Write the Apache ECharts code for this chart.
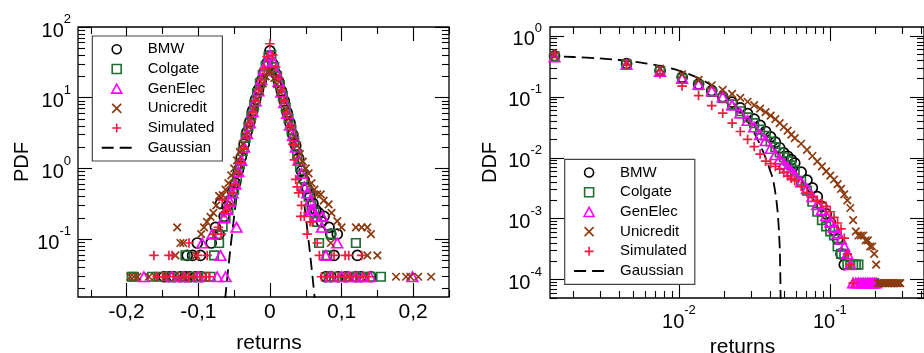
<!DOCTYPE html>
<html>
<head>
<meta charset="utf-8">
<script src="https://cdn.jsdelivr.net/npm/echarts@6/dist/echarts.min.js"></script>
<style>
html, body { margin: 0; padding: 0; background: #fff; }
#chart { width: 924px; height: 353px; }
</style>
</head>
<body>
<div id="chart"></div>
<script>
// ---------- Series names and colours ----------
const seriesNames = ['BMW', 'Colgate', 'GenElec', 'Unicredit', 'Simulated'];
const gaussName = 'Gaussian';

// ---------- Left panel: PDF of returns ----------
const pdfBMW = [
  [-0.064,0.21],[-0.060,0.29],[-0.056,0.35],[-0.052,0.47],[-0.048,0.62],[-0.044,0.95],[-0.040,1.45],[-0.036,2.2],
  [-0.032,3.3],[-0.028,4.6],[-0.024,6.6],[-0.020,9.5],[-0.016,13],[-0.012,17.5],[-0.008,23],[-0.004,31],[0,46],
  [0.004,30],[0.008,22],[0.012,17],[0.016,12.5],[0.020,9],[0.024,6.2],[0.028,4.4],[0.032,3.0],[0.036,2.1],
  [0.040,1.4],[0.044,0.92],[0.048,0.68],[0.052,0.52],[0.056,0.40],[0.060,0.32],[0.064,0.26],
  [-0.069,0.32],[-0.071,0.1176],[-0.076,0.147],[-0.082,0.0882],[-0.097,0.0588],[-0.1015,0.0882],[-0.108,0.0588],
  [-0.1155,0.0588],[-0.096,0.0294],[-0.104,0.0294],[-0.112,0.0294],[-0.118,0.0294],[-0.125,0.0294],
  [-0.134,0.0294],[-0.141,0.0294],[-0.148,0.0294],
  [0.068,0.235],[0.072,0.176],[0.0755,0.21],[0.0825,0.147],[0.085,0.1176],[0.094,0.1176],[0.0895,0.0588],
  [0.122,0.0588],[0.078,0.0294],[0.085,0.0294],[0.095,0.0294],[0.106,0.0294],[0.12,0.0294],[0.127,0.0294],[0.141,0.0294]
];
const pdfColgate = [
  [-0.066,0.15],[-0.062,0.2],[-0.058,0.26],[-0.054,0.35],[-0.050,0.5],[-0.046,0.75],[-0.042,1.15],[-0.038,1.75],
  [-0.034,2.7],[-0.030,3.9],[-0.026,5.6],[-0.022,8],[-0.018,11.5],[-0.014,16],[-0.010,21],[-0.006,28],[-0.002,38],
  [0.002,40],[0.006,27],[0.010,20],[0.014,15],[0.018,10.5],[0.022,7.3],[0.026,5.1],[0.030,3.5],[0.034,2.4],
  [0.038,1.6],[0.042,1.05],[0.046,0.72],[0.050,0.52],[0.054,0.40],[0.058,0.3],[0.062,0.24],[0.066,0.176],
  [-0.0736,0.1176],[-0.071,0.0882],[-0.078,0.0588],[-0.118,0.0588],[-0.083,0.0294],[-0.09,0.0294],[-0.10,0.0294],
  [-0.108,0.0294],[-0.125,0.0294],[-0.14,0.0294],[-0.155,0.0294],[-0.1645,0.0294],[-0.193,0.0294],[-0.19,0.0294],
  [0.0686,0.0882],[0.085,0.1176],[0.12,0.0882],[0.080,0.0588],[0.082,0.0294],[0.09,0.0294],[0.105,0.0294],
  [0.11,0.0294],[0.117,0.0294],[0.13,0.0294],[0.14,0.0294],[0.155,0.0294]
];
const pdfGenElec = [
  [-0.064,0.2],[-0.060,0.26],[-0.056,0.34],[-0.052,0.45],[-0.048,0.6],[-0.044,0.9],[-0.040,1.3],[-0.036,2.0],
  [-0.032,3.1],[-0.028,4.4],[-0.024,6.3],[-0.020,9],[-0.016,12.5],[-0.012,18],[-0.008,25],[-0.004,32],[0,40],
  [0.004,33],[0.008,24],[0.012,17],[0.016,12],[0.020,8.5],[0.024,6],[0.028,4.1],[0.032,2.9],[0.036,2.0],
  [0.040,1.3],[0.044,0.85],[0.048,0.55],[0.052,0.45],[0.056,0.35],[0.060,0.26],[0.064,0.21],
  [-0.0466,0.147],[-0.069,0.0588],[-0.0806,0.1176],[-0.0946,0.0882],[-0.062,0.0294],[-0.0736,0.0294],
  [-0.1,0.0294],[-0.12,0.0294],[-0.137,0.0294],[-0.176,0.0294],
  [0.057,0.26],[0.073,0.21],[0.0725,0.147],[0.078,0.0588],[0.094,0.0882],[0.085,0.0294],[0.1,0.0294],
  [0.11,0.0294],[0.12,0.0294],[0.13,0.0294],[0.14,0.0294],[0.199,0.0294]
];
const pdfUnicredit = [
  [-0.066,0.42],[-0.062,0.5],[-0.058,0.62],[-0.054,0.8],[-0.050,1.0],[-0.046,1.3],[-0.042,1.7],[-0.038,2.2],
  [-0.034,2.9],[-0.030,3.9],[-0.026,5.2],[-0.022,7],[-0.018,9.5],[-0.014,12.5],[-0.010,16],[-0.006,20],[-0.002,24],
  [0.002,23],[0.006,19],[0.010,15.5],[0.014,12],[0.018,9.2],[0.022,6.8],[0.026,5.0],[0.030,3.8],[0.034,2.8],
  [0.038,2.1],[0.042,1.6],[0.046,1.25],[0.050,1.0],[0.054,0.85],[0.058,0.62],[0.062,0.5],[0.066,0.43],
  [-0.071,0.41],[-0.075,0.3],[-0.079,0.235],[-0.083,0.206],[-0.088,0.176],[-0.092,0.147],[-0.096,0.1176],
  [-0.1295,0.147],[-0.125,0.0882],[-0.121,0.0882],[-0.103,0.0588],[-0.132,0.0588],[-0.11,0.0294],[-0.12,0.0294],
  [-0.145,0.0294],[-0.16,0.0294],[-0.169,0.0294],[-0.185,0.0294],[-0.19,0.0294],[-0.195,0.0294],
  [0.071,0.43],[0.075,0.35],[0.082,0.31],[0.086,0.235],[0.094,0.18],[0.1,0.147],[0.12,0.147],[0.128,0.147],
  [0.136,0.147],[0.141,0.1176],[0.085,0.0882],[0.136,0.0588],[0.15,0.0588],[0.11,0.0294],[0.176,0.0294],
  [0.19,0.0294],[0.196,0.0294],[0.207,0.0294],[0.225,0.0294]
];
const pdfSimulated = [
  [-0.060,0.26],[-0.056,0.3],[-0.052,0.45],[-0.048,0.6],[-0.044,0.85],[-0.040,1.2],[-0.036,1.9],[-0.032,2.9],
  [-0.028,4.3],[-0.024,6.2],[-0.020,9],[-0.016,13],[-0.012,18],[-0.008,26],[-0.004,38],[0,58],[0.004,40],
  [0.008,27],[0.012,19],[0.016,13],[0.020,9],[0.024,6],[0.028,3.9],[0.032,2.2],[0.034,1.32],[0.036,0.7],
  [0.038,0.55],[0.040,0.45],[0.044,0.3],[0.043,0.21],[0.048,0.21],[0.052,0.1176],[0.056,0.176],[0.059,0.176],
  [-0.064,0.235],[-0.0666,0.36],[-0.068,0.1176],[-0.072,0.147],[-0.078,0.1176],[-0.0876,0.0588],[-0.1015,0.0588],
  [-0.113,0.0882],[-0.1365,0.0588],[-0.141,0.0588],[-0.162,0.0588],[-0.1575,0.0294],[-0.15,0.0294],
  [-0.145,0.0294],[-0.135,0.0294],[-0.128,0.0294],
  [-0.12,0.0294],[-0.113,0.0294],[-0.105,0.0294],[-0.098,0.0294],[-0.09,0.0294],[-0.085,0.0294],
  [0.066,0.0882],[0.069,0.0588],[0.0895,0.0588],[0.105,0.0588],[0.11,0.0588],[0.128,0.0588],[0.072,0.0294],
  [0.08,0.0294],[0.088,0.0294],[0.095,0.0294],[0.104,0.0294],[0.112,0.0294],[0.12,0.0294],[0.13,0.0294],[0.138,0.0294]
];
const pdfGauss = [
  [-0.065,0.0079],[-0.0625,0.0144],[-0.06,0.026],[-0.055,0.077],[-0.05,0.21],[-0.045,0.52],[-0.04,1.17],
  [-0.035,2.39],[-0.03,4.43],[-0.025,7.49],[-0.02,11.5],[-0.015,16.0],[-0.01,20.4],[-0.005,23.5],[0,24.6],
  [0.005,23.5],[0.01,20.4],[0.015,16.0],[0.02,11.5],[0.025,7.49],[0.03,4.43],[0.035,2.39],[0.04,1.17],
  [0.045,0.52],[0.05,0.21],[0.055,0.077],[0.06,0.026],[0.0625,0.0144],[0.065,0.0079]
];

// ---------- Right panel: DDF of absolute returns ----------
const ddfX = [
  0.0015,0.0045,0.0075,0.0105,0.0135,0.0165,0.0195,0.0225,0.0255,0.0285,0.0315,0.0345,0.0375,0.0405,0.0435,
  0.0465,0.0495,0.0525,0.0555,0.0585,
  0.0645,0.0705,0.0765,0.0825,0.0885,0.0945,0.1005,0.1065,0.1125,0.1185,0.1245,0.1305,0.1365,0.1425,0.1485,
  0.1545,0.1605,0.1665,0.1725,0.1785,0.1845,0.1905,0.1965,0.2025,0.2085,0.2145,0.2205,0.2265,0.2325,0.2385,
  0.2445,0.2505,0.2565,0.2625,0.2685,0.2745,0.2805,0.2865,0.2925
];
const ddfBMW = [
  0.47,0.35,0.27,0.21,0.162,0.127,0.1,0.082,0.066,0.053,0.043,0.034,0.027,0.022,0.018,0.0146,0.012,0.0106,0.0093,0.0082,
  0.0058,0.0043,0.0032,0.0023,0.0016,0.0012,0.00088,0.00065,0.00046,0.000264,0.000176
];
const ddfColgate = [
  0.46,0.34,0.265,0.2,0.155,0.12,0.095,0.075,0.058,0.046,0.037,0.029,0.023,0.0185,0.015,0.0122,0.0102,0.0088,0.0075,0.0062,
  0.0042,0.0029,0.0019,0.0013,0.00095,0.00075,0.00062,0.00053,0.00035,0.000264,0.000264,
  0.000176,0.000176,0.000176,0.000176,0.000176,
  0.000088,0.000088,0.000088,0.000088,0.000088,0.000088,0.000088
];
const ddfGenElec = [
  0.45,0.34,0.26,0.2,0.16,0.125,0.1,0.073,0.054,0.041,0.032,0.024,0.019,0.0142,0.0112,0.0095,0.008,0.007,0.006,0.0053,
  0.004,0.0031,0.0023,0.0017,0.0014,0.00112,0.00088,0.00072,0.00058,0.00046,0.00035,0.000264,0.000176,
  0.000088,0.000088,0.000088,0.000088,0.000088,0.000088,0.000088,0.000088,0.000088,0.000088,0.000088
];
const ddfUnicredit = [
  0.47,0.36,0.29,0.235,0.19,0.155,0.13,0.112,0.096,0.083,0.073,0.064,0.056,0.049,0.043,0.037,0.032,0.028,0.024,0.021,
  0.017,0.0135,0.0107,0.0087,0.0072,0.006,0.0051,0.0044,0.0037,0.0031,0.0025,0.002,0.0015,0.00095,0.00062,
  0.00053,0.00053,0.00053,0.00044,0.00044,0.00035,0.00035,0.000264,0.000176,
  0.000088,0.000088,0.000088,0.000088,0.000088,0.000088,0.000088,0.000088,0.000088,0.000088,0.000088,0.000088,
  0.000088,0.000088,0.000088
];
const ddfSimulated = [
  0.51,0.33,0.24,0.15,0.105,0.072,0.054,0.037,0.027,0.02,0.0153,0.0115,0.0088,0.008,0.0072,0.0065,0.0057,0.005,0.0046,0.0042,
  0.0034,0.0027,0.0023,0.002,0.0018,0.0016,0.0013,0.00105,0.00085,0.00068,0.00048,0.000264,0.000176,0.000088
];
const ddfGauss = [
  [0.001,0.475],[0.0015,0.463],[0.002,0.451],[0.003,0.427],[0.004,0.4025],[0.005,0.3788],[0.006,0.3555],
  [0.008,0.3108],[0.01,0.2686],[0.012,0.2295],[0.014,0.1938],[0.016,0.1617],[0.018,0.1333],[0.02,0.1085],
  [0.022,0.0872],[0.024,0.0693],[0.026,0.0543],[0.028,0.042],[0.03,0.032],[0.032,0.024],[0.034,0.0177],
  [0.036,0.01285],[0.038,0.00915],[0.04,0.0064],[0.042,0.0044],[0.044,0.0022],[0.0452,0.0012],[0.046,0.0006],
  [0.0466,0.0003],[0.047,0.0001],[0.0473,0.00002]
];

// ---------- Tick positions and labels ----------
const pdfXLabels = [-0.2, -0.1, 0, 0.1, 0.2];
const pdfXMinor = [-0.25, -0.15, -0.05, 0.05, 0.15, 0.25];
const pdfYMajor = [100, 10, 1, 0.1];
const pdfYMinor = [0.02,0.03,0.04,0.05,0.06,0.07,0.08,0.09, 0.2,0.3,0.4,0.5,0.6,0.7,0.8,0.9,
                   2,3,4,5,6,7,8,9, 20,30,40,50,60,70,80,90];
const ddfXMajor = [0.01, 0.1];
const ddfXMinor = [0.002,0.003,0.004,0.005,0.006,0.007,0.008,0.009,
                   0.02,0.03,0.04,0.05,0.06,0.07,0.08,0.09, 0.2,0.3,0.4];
const ddfYMajor = [1, 0.1, 0.01, 0.001, 0.0001];
const ddfYMinor = [5e-5,6e-5,7e-5,8e-5,9e-5, 2e-4,3e-4,4e-4,5e-4,6e-4,7e-4,8e-4,9e-4,
                   2e-3,3e-3,4e-3,5e-3,6e-3,7e-3,8e-3,9e-3, 0.02,0.03,0.04,0.05,0.06,0.07,0.08,0.09,
                   0.2,0.3,0.4,0.5,0.6,0.7,0.8,0.9];

// ---------- Styling ----------
const FONT = '"Liberation Sans", Arial, sans-serif';
const colors = {
  BMW: '#000000',
  Colgate: '#1f6e33',
  GenElec: '#ff00ff',
  Unicredit: '#8b3a10',
  Simulated: '#f5193f'
};
const symbols = {
  BMW: 'circle',
  Colgate: 'path://M0,0L10,0L10,10L0,10Z',
  GenElec: 'path://M5,0L10,9L0,9Z',
  Unicredit: 'path://M0,0L10,10M10,0L0,10',
  Simulated: 'path://M5,0L5,10M0,5L10,5'
};
const symbolSizes = { BMW: 10, Colgate: 8.5, GenElec: [10.5, 9.5], Unicredit: 7.5, Simulated: 9.5 };

const expRich = {
  b: { fontSize: 20, fontFamily: FONT, color: '#000', lineHeight: 28, verticalAlign: 'bottom' },
  e: { fontSize: 13, fontFamily: FONT, color: '#000', lineHeight: 13, verticalAlign: 'top' }
};
function powerLabel(v) {
  const e = Math.round(Math.log10(v));
  return '{b|10}{e|' + e + '}';
}
function commaLabel(v) {
  return v === 0 ? '0' : v.toFixed(1).replace('.', ',');
}

const tickStyle = { color: '#000', width: 1.1 };

// Four axes per direction: labelled major ticks, mirrored major ticks,
// and short minor ticks on both sides.
function makeAxes(dim, gridIndex, base, major, minor, label, nameOpt) {
  const sides = dim === 'x' ? ['bottom', 'top'] : ['left', 'right'];
  const common = Object.assign({
    gridIndex: gridIndex,
    axisLine: { show: false, onZero: false },
    splitLine: { show: false }
  }, base);
  return [
    Object.assign({}, common, {
      position: sides[0],
      axisTick: { inside: true, length: 14, customValues: major, lineStyle: tickStyle },
      axisLabel: label
    }, nameOpt),
    Object.assign({}, common, {
      position: sides[1],
      axisTick: { inside: true, length: 14, customValues: major, lineStyle: tickStyle },
      axisLabel: { show: false }
    }),
    Object.assign({}, common, {
      position: sides[0],
      axisTick: { inside: true, length: 7, customValues: minor, lineStyle: tickStyle },
      axisLabel: { show: false }
    }),
    Object.assign({}, common, {
      position: sides[1],
      axisTick: { inside: true, length: 7, customValues: minor, lineStyle: tickStyle },
      axisLabel: { show: false }
    })
  ];
}

const nameStyle = { fontFamily: FONT, fontSize: 21, color: '#000' };

const xAxes = []
  .concat(makeAxes('x', 0, { type: 'value', min: -0.268, max: 0.25 }, pdfXLabels, pdfXMinor,
    { customValues: pdfXLabels, formatter: commaLabel, margin: 5, fontFamily: FONT, fontSize: 21, color: '#000' },
    { name: 'returns', nameLocation: 'middle', nameGap: 36,
      nameTextStyle: Object.assign({ padding: [0, 0, 0, 11] }, nameStyle) }))
  .concat(makeAxes('x', 1, { type: 'log', logBase: 10, min: 0.0014, max: 0.42 }, ddfXMajor, ddfXMinor,
    { customValues: ddfXMajor, formatter: powerLabel, rich: expRich, margin: 6 },
    { name: 'returns', nameLocation: 'middle', nameGap: 36,
      nameTextStyle: Object.assign({ padding: [0, 0, 0, 11] }, nameStyle) }));

const yAxes = []
  .concat(makeAxes('y', 0, { type: 'log', logBase: 10, min: 0.0152, max: 100 }, pdfYMajor, pdfYMinor,
    { customValues: pdfYMajor, formatter: powerLabel, rich: expRich, margin: 7 },
    { name: 'PDF', nameLocation: 'middle', nameGap: 46, nameTextStyle: Object.assign({}, nameStyle, { fontSize: 20 }) }))
  .concat(makeAxes('y', 1, { type: 'log', logBase: 10, min: 5e-5, max: 1.4 }, ddfYMajor, ddfYMinor,
    { customValues: ddfYMajor, formatter: powerLabel, rich: expRich, margin: 8 },
    { name: 'DDF', nameLocation: 'middle', nameGap: 50, nameTextStyle: Object.assign({}, nameStyle, { fontSize: 20 }) }));

const pdfData = { BMW: pdfBMW, Colgate: pdfColgate, GenElec: pdfGenElec, Unicredit: pdfUnicredit, Simulated: pdfSimulated };
const ddfData = { BMW: ddfBMW, Colgate: ddfColgate, GenElec: ddfGenElec, Unicredit: ddfUnicredit, Simulated: ddfSimulated };

function pairUp(ys) {
  return ys.map(function (y, i) { return [ddfX[i], y]; });
}

function gaussSeries(axisIndex, data) {
  return {
    type: 'line', name: gaussName, xAxisIndex: axisIndex, yAxisIndex: axisIndex,
    data: data, smooth: 0.3, symbol: 'none', showSymbol: false, clip: true, silent: true,
    lineStyle: { color: '#000', width: 1.8, type: [12, 6] },
    itemStyle: { color: '#000' }, z: 1
  };
}
function markerSeries(name, axisIndex, data) {
  return {
    type: 'scatter', name: name, xAxisIndex: axisIndex, yAxisIndex: axisIndex,
    data: data, symbol: symbols[name], symbolSize: symbolSizes[name], silent: true, clip: true,
    itemStyle: { color: 'transparent', borderColor: colors[name], borderWidth: 1.7, opacity: 1 },
    emphasis: { disabled: true }, z: 2
  };
}

const series = [gaussSeries(0, pdfGauss)]
  .concat(seriesNames.map(function (n) { return markerSeries(n, 0, pdfData[n]); }))
  .concat([gaussSeries(4, ddfGauss)])
  .concat(seriesNames.map(function (n) { return markerSeries(n, 4, pairUp(ddfData[n])); }));

function makeLegend(left, top) {
  return {
    left: left, top: top, orient: 'vertical',
    data: seriesNames.map(function (n) { return { name: n }; }).concat([{
      name: gaussName,
      itemStyle: { color: 'transparent', borderColor: 'transparent', borderWidth: 0, opacity: 0 }
    }]),
    itemWidth: 30, itemHeight: 9, itemGap: 4.7,
    padding: [5.75, 8, 5.75, 8.4],
    borderColor: '#444', borderWidth: 1.2, borderRadius: 0,
    backgroundColor: '#fff',
    selectedMode: false,
    textStyle: { fontFamily: FONT, fontSize: 15, color: '#000', lineHeight: 15, padding: [0, 0, 0, 11] },
    itemStyle: { borderWidth: 1.6, opacity: 1 },
    z: 10
  };
}

const option = {
  animation: false,
  backgroundColor: '#fff',
  grid: [
    { left: 78, top: 27, width: 371, height: 270, show: true, borderColor: '#000', borderWidth: 1.3,
      containLabel: false, outerBoundsMode: 'none' },
    { left: 550, top: 27, width: 374, height: 271, show: true, borderColor: '#000', borderWidth: 1.3,
      containLabel: false, outerBoundsMode: 'none' }
  ],
  xAxis: xAxes,
  yAxis: yAxes,
  legend: [makeLegend(92.3, 36), makeLegend(564.7, 159.3)],
  series: series
};

const chart = echarts.init(document.getElementById('chart'), null, { renderer: 'canvas' });
chart.setOption(option);
</script>
</body>
</html>
